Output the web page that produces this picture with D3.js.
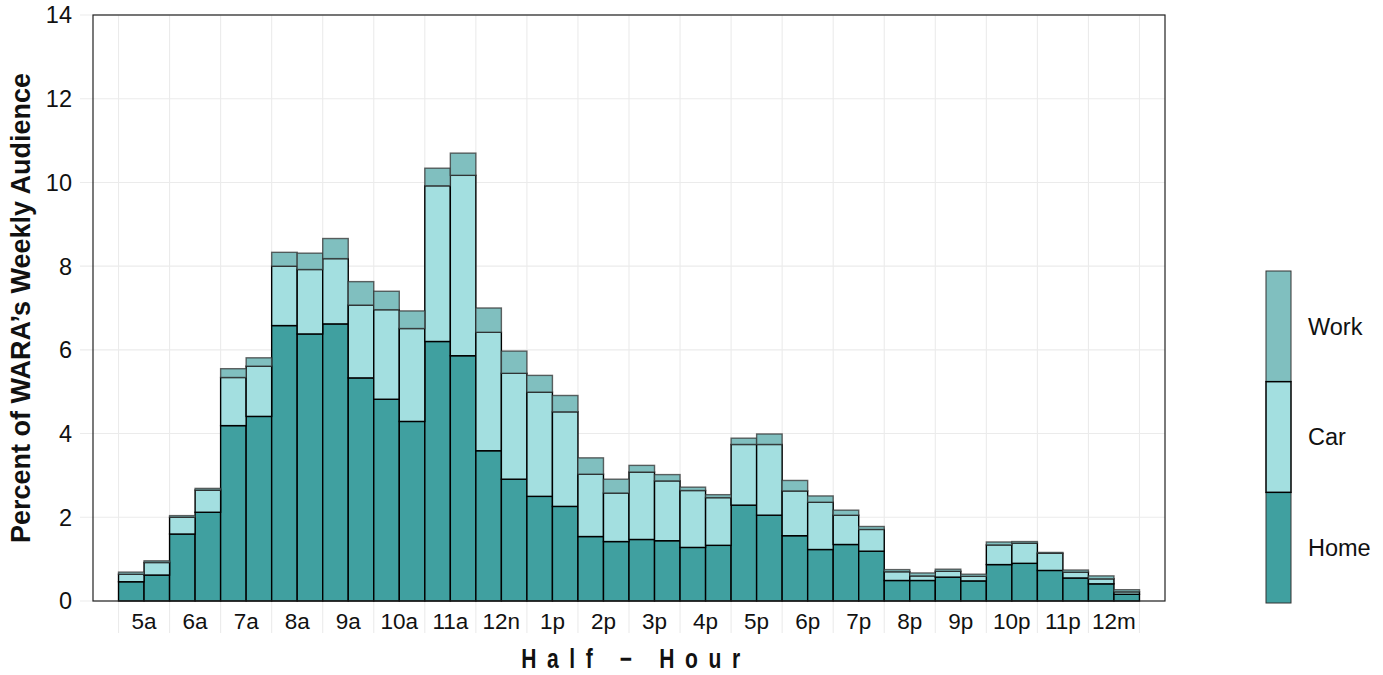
<!DOCTYPE html>
<html><head><meta charset="utf-8">
<script src="https://cdn.jsdelivr.net/npm/d3@7"></script>
<style>body{margin:0;background:#fff;} svg{display:block;}</style>
</head><body>
<script>
const hourLabels = ["5a","6a","7a","8a","9a","10a","11a","12n","1p","2p","3p","4p","5p","6p","7p","8p","9p","10p","11p","12m"];
const home = [0.46,0.62,1.60,2.12,4.19,4.41,6.58,6.38,6.62,5.33,4.82,4.29,6.20,5.86,3.59,2.91,2.50,2.26,1.54,1.42,1.47,1.44,1.28,1.33,2.29,2.05,1.56,1.23,1.35,1.19,0.49,0.49,0.57,0.48,0.87,0.90,0.73,0.55,0.41,0.16];
const car  = [0.18,0.30,0.40,0.53,1.15,1.20,1.42,1.54,1.56,1.74,2.14,2.22,3.72,4.31,2.83,2.53,2.49,2.26,1.49,1.16,1.61,1.43,1.36,1.14,1.45,1.69,1.07,1.13,0.70,0.52,0.21,0.11,0.14,0.11,0.47,0.48,0.41,0.14,0.12,0.06];
const work = [0.05,0.04,0.04,0.04,0.21,0.20,0.33,0.39,0.48,0.56,0.44,0.42,0.42,0.53,0.58,0.53,0.40,0.39,0.39,0.33,0.16,0.15,0.08,0.07,0.15,0.25,0.25,0.15,0.12,0.07,0.05,0.07,0.05,0.05,0.07,0.04,0.02,0.05,0.07,0.05];
const seriesNames = ["Home","Car","Work"];
const yTicks = [0,2,4,6,8,10,12,14];
const colors = {Home:"#40a0a0", Car:"#a3dfe0", Work:"#80bfbf"};

const W=1383,H=675;
const svg=d3.select("body").append("svg").attr("width",W).attr("height",H);
const L=93,R=1165,T=15,B=601;
const x=d3.scaleLinear().domain([-1,41]).range([L,R]);
const y=d3.scaleLinear().domain([0,14]).range([B,T]);
const font="Liberation Sans, Arial, sans-serif";

// gridlines
const g=svg.append("g");
g.selectAll("line.hg").data(yTicks).join("line")
  .attr("x1",80).attr("x2",R).attr("y1",d=>y(d)).attr("y2",d=>y(d))
  .attr("stroke","#ebebeb").attr("stroke-width",1.1);
const bounds=d3.range(0,41,2);
g.selectAll("line.vg").data(bounds).join("line")
  .attr("x1",d=>x(d)).attr("x2",d=>x(d)).attr("y1",T).attr("y2",633)
  .attr("stroke","#ebebeb").attr("stroke-width",1.1);

// stacked data
const rows=home.map((h,i)=>({i,Home:h,Car:car[i],Work:work[i]}));
const stack=d3.stack().keys(seriesNames)(rows);
const bars=svg.append("g");
stack.forEach(layer=>{
  bars.selectAll(null).data(layer).join("rect")
    .attr("x",d=>x(d.data.i)).attr("width",x(1)-x(0))
    .attr("y",d=>y(d[1])).attr("height",d=>y(d[0])-y(d[1]))
    .attr("fill",colors[layer.key])
    .attr("stroke",layer.key==="Work"?"#333":"#000")
    .attr("stroke-opacity",layer.key==="Work"?0.75:1)
    .attr("stroke-width",1.4);
});

// frame
svg.append("rect").attr("x",L).attr("y",T).attr("width",R-L).attr("height",B-T)
  .attr("fill","none").attr("stroke","#222").attr("stroke-width",1.2);

// y labels
svg.selectAll("text.yt").data(yTicks).join("text")
  .attr("x",72).attr("y",d=>y(d)).attr("dy","0.36em").attr("text-anchor","end")
  .attr("font-family",font).attr("font-size",23.5).attr("fill","#111").text(d=>d);
// x labels
svg.selectAll("text.xt").data(hourLabels).join("text")
  .attr("x",(d,i)=>x(2*i+1)).attr("y",629)
  .attr("text-anchor","middle")
  .attr("font-family",font).attr("font-size",22.5).attr("fill","#111")
  .text(d=>d);

// titles
svg.append("text").attr("transform","translate(636,668) scale(0.78,1)").attr("text-anchor","middle")
  .attr("font-family",font).attr("font-weight","bold").attr("font-size",27)
  .attr("letter-spacing","13.6px").attr("fill","#111").text("Half − Hour");
svg.append("text").attr("transform","translate(30,308) rotate(-90)")
  .attr("text-anchor","middle").attr("font-family",font).attr("font-weight","bold")
  .attr("font-size",27).attr("fill","#111").text("Percent of WARA’s Weekly Audience");

// legend
const lx=1266,lw=25,lTop=271,lBot=603;
const ly=d3.scaleBand().domain(["Work","Car","Home"]).range([lTop,lBot]);
const leg=svg.append("g");
["Work","Home","Car"].forEach(k=>{
  leg.append("rect").attr("x",lx).attr("y",ly(k)).attr("width",lw).attr("height",ly.bandwidth())
    .attr("fill",colors[k]).attr("stroke",k==="Car"?"#000":"#333").attr("stroke-width",k==="Car"?1.5:1);
  leg.append("text").attr("x",1308).attr("y",ly(k)+ly.bandwidth()/2)
    .attr("dy","0.36em")
    .attr("font-family",font).attr("font-size",23.5).attr("fill","#111").text(k);
});
</script>
</body></html>
